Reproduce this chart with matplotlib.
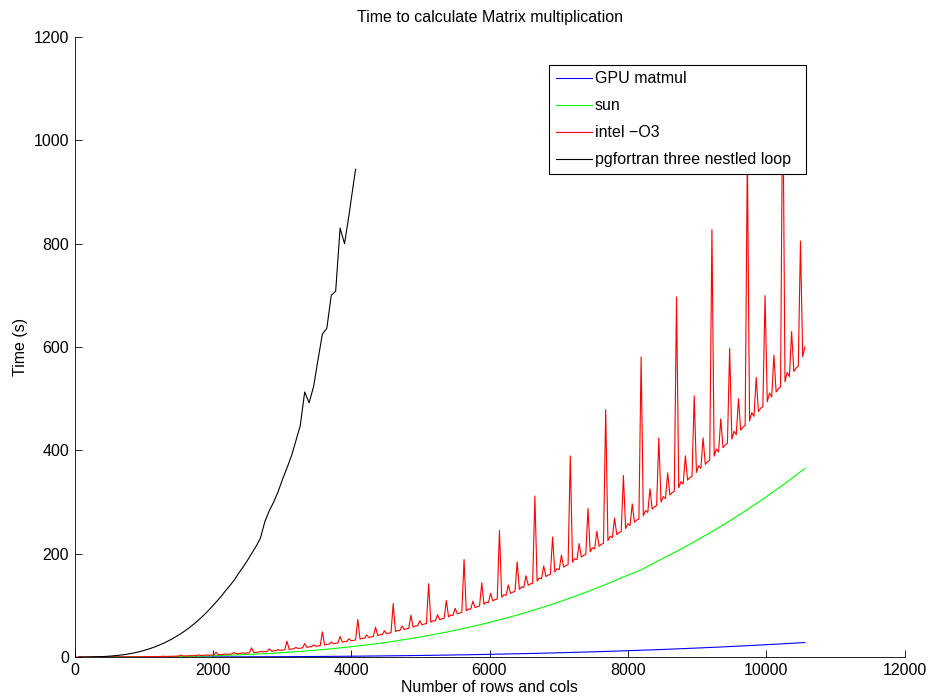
import numpy as np
import matplotlib
matplotlib.use("Agg")
import matplotlib.pyplot as plt

plt.rcParams['font.family'] = ['Liberation Sans', 'DejaVu Sans']

# matrix sizes (rows = cols)
n_intel = list(range(32, 10561, 32))
n_gpu = list(range(256, 10497, 256)) + [10560]
n_sun = list(range(256, 10497, 256)) + [10560]
n_pgf = list(range(64, 4033, 64)) + [4064]

# time in seconds
t_gpu = [0.0, 0.003, 0.011, 0.026, 0.05, 0.086, 0.14, 0.2, 0.29, 0.4,
         0.53, 0.69, 0.88, 1.09, 1.35, 1.63, 1.96, 2.33, 2.74, 3.19,
         3.7, 4.25, 4.85, 5.52, 6.23, 7.01, 7.85, 8.76, 9.73, 10.8,
         11.9, 13.1, 14.3, 15.7, 17.1, 18.6, 20.2, 21.9, 23.7, 25.5,
         27.5, 28.0]

t_sun = [0.01, 0.04, 0.14, 0.33, 0.65, 1.12, 1.78, 2.66, 3.79, 5.2,
         6.92, 8.99, 11.4, 14.3, 17.6, 21.3, 25.6, 30.3, 35.7, 41.6,
         48.2, 55.4, 63.3, 71.9, 81.3, 91.4, 102.4, 114.2, 126.8, 140.4,
         154.9, 168.5, 186.9, 204.4, 223.0, 242.6, 263.4, 285.4, 308.5, 332.8,
         358.4, 365.0]

# one row = 512 sizes (16 points)
t_intel = [
    0.0, 0.0, 0.0, 0.0, 0.0, 0.0, 0.01, 0.01, 0.01, 0.02, 0.02, 0.03, 0.04, 0.04, 0.05, 0.14,
    0.08, 0.09, 0.11, 0.15, 0.15, 0.18, 0.2, 0.32, 0.25, 0.29, 0.32, 0.41, 0.39, 0.44, 0.48, 1.14,
    0.58, 0.65, 0.69, 0.86, 0.82, 0.88, 0.96, 1.47, 1.11, 1.22, 1.28, 1.58, 1.47, 1.57, 1.67, 3.83,
    1.89, 2.05, 2.14, 2.6, 2.4, 2.54, 2.68, 4.04, 2.98, 3.2, 3.31, 4.0, 3.66, 3.8, 4.03, 9.1,
    4.42, 4.7, 4.84, 5.8, 5.29, 5.6, 5.76, 8.6, 6.26, 6.6, 6.79, 8.1, 7.35, 7.7, 7.94, 17.7,
    8.56, 9.1, 9.21, 11.0, 9.89, 10.2, 10.6, 15.7, 11.35, 12.0, 12.13, 14.4, 12.95, 13.4, 13.8, 30.6,
    14.7, 15.5, 15.6, 18.5, 16.6, 17.2, 17.6, 25.9, 18.6, 19.6, 19.7, 23.3, 20.9, 21.5, 22.0, 48.6,
    23.2, 24.5, 24.5, 28.9, 25.8, 26.6, 27.1, 39.8, 28.5, 30.0, 30.0, 35.3, 31.4, 32.3, 33.0, 72.6,
    34.6, 36.3, 36.2, 42.6, 37.9, 38.9, 39.6, 57.9, 41.4, 43.4, 43.2, 50.8, 45.1, 46.3, 47.1, 103.4,
    49.1, 51.4, 51.1, 60.0, 53.3, 54.6, 55.4, 80.9, 57.7, 60.4, 60.0, 70.3, 62.3, 63.8, 64.7, 141.8,
    67.2, 70.2, 69.7, 81.7, 72.3, 74.0, 75.0, 109.2, 77.7, 81.1, 80.5, 94.2, 83.4, 85.1, 86.3, 188.7,
    89.3, 93.1, 92.4, 108.0, 95.5, 97.5, 98.7, 143.4, 102.0, 106.3, 105.3, 123.1, 108.7, 111.0, 112.2, 245.0,
    115.8, 120.5, 119.4, 139.4, 123.1, 125.5, 126.9, 184.2, 130.8, 136.0, 134.7, 157.2, 138.7, 141.5, 142.8, 311.6,
    147.0, 152.9, 151.3, 176.4, 155.6, 158.6, 160.0, 232.1, 164.5, 171.0, 169.1, 197.2, 173.8, 177.0, 178.6, 389.1,
    183.4, 190.5, 188.3, 219.5, 193.4, 196.9, 198.5, 287.5, 203.7, 211.5, 209.0, 243.4, 214.4, 218.2, 219.8, 478.6,
    225.4, 233.9, 231.0, 269.0, 236.8, 240.9, 242.6, 351.2, 248.6, 257.9, 254.6, 296.3, 260.8, 265.1, 267.0, 580.8,
    273.3, 283.5, 279.8, 325.5, 286.3, 290.8, 292.9, 423.7, 299.7, 310.6, 306.5, 356.4, 313.4, 318.2, 320.5, 696.7,
    327.6, 339.5, 334.9, 389.3, 342.2, 347.2, 349.7, 505.5, 357.3, 370.1, 365.0, 424.2, 372.8, 377.9, 380.7, 827.0,
    388.7, 402.5, 396.8, 461.0, 405.0, 410.4, 413.4, 597.2, 421.8, 436.8, 430.4, 500.0, 439.1, 444.8, 447.9, 972.6,
    456.9, 472.9, 465.9, 541.1, 475.1, 481.6, 484.4, 699.3, 493.8, 511.0, 503.3, 584.3, 512.9, 519.3, 522.7, 1134.4,
    532.6, 551.0, 542.6, 629.8, 552.8, 559.0, 563.0, 805.0, 581.0, 600.0]

t_pgf = [0.0, 0.03, 0.09, 0.2, 0.4, 0.7, 1.1, 1.7, 2.4, 3.3,
         4.3, 5.6, 7.2, 9.0, 11.0, 13.5, 16.1, 19.1, 22.5, 26.2,
         30.3, 34.8, 39.7, 45.0, 50.9, 57.2, 64.1, 71.5, 79.3, 87.9,
         96.8, 106.5, 116, 127, 137, 148, 161, 173, 186, 200,
         214, 230, 262, 283, 300, 320, 344, 366, 389, 418,
         448, 513, 492, 523, 575, 625, 636, 700, 708, 830,
         800, 855, 915, 944]

labels = ['GPU matmul', 'sun', 'intel \u2212O3', 'pgfortran three nestled loop  ']

fig = plt.figure(figsize=(9.3, 6.97), dpi=100)
ax = fig.add_axes([74.5 / 930, 40 / 697, 830 / 930, 620 / 697])

ax.plot(n_gpu, t_gpu, color=(0, 0, 1), lw=0.8, label=labels[0])
ax.plot(n_sun, t_sun, color=(0, 1, 0), lw=0.8, label=labels[1])
ax.plot(n_intel, t_intel, color=(1, 0, 0), lw=0.8, label=labels[2])
ax.plot(n_pgf, t_pgf, color='black', lw=0.8, label=labels[3])

ax.set_xlim(0, 12000)
ax.set_ylim(0, 1200)
ax.set_xticks(range(0, 12001, 2000))
ax.set_yticks(range(0, 1201, 200))
ax.tick_params(direction='in', length=5, width=0.6, labelsize=11.5, pad=4)
ax.spines['top'].set_visible(False)
ax.spines['right'].set_visible(False)
for s in ['left', 'bottom']:
    ax.spines[s].set_linewidth(0.6)

ax.set_title('Time to calculate Matrix multiplication', fontsize=11.5, pad=11)
ax.set_xlabel('Number of rows and cols', fontsize=11.5, labelpad=2)
ax.set_ylabel('Time (s)', fontsize=11.5, labelpad=4)

leg = ax.legend(loc='upper left', bbox_to_anchor=(0.572, 0.955), fontsize=11.5,
                frameon=True, fancybox=False, framealpha=1, edgecolor='black',
                handlelength=2.3, handletextpad=0.15, labelspacing=0.75,
                borderpad=0.4, borderaxespad=0)
leg.get_frame().set_linewidth(0.8)

fig.savefig('out.png', dpi=100)
